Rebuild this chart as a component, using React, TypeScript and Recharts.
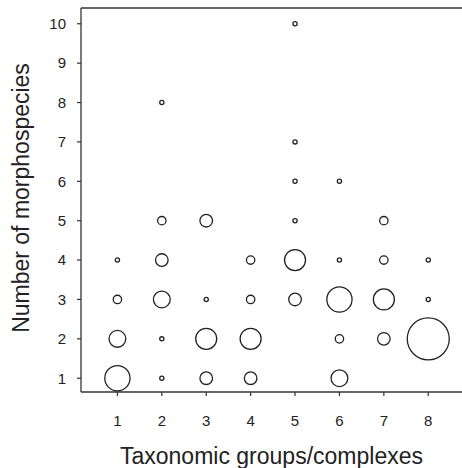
import React from 'react';
import { ScatterChart, Scatter, XAxis, YAxis, ReferenceLine, Label } from 'recharts';

// one entry per bubble: taxonomic group, number of morphospecies, frequency
const pointGroup = [1, 1, 1, 1, 2, 2, 2, 2, 2, 2, 3, 3, 3, 3, 4, 4, 4, 4, 5, 5, 5, 5, 5, 5, 6, 6, 6, 6, 6, 7, 7, 7, 7, 8, 8, 8];
const pointSpecies = [1, 2, 3, 4, 1, 2, 3, 4, 5, 8, 1, 2, 3, 5, 1, 2, 3, 4, 3, 4, 5, 6, 7, 10, 1, 2, 3, 4, 6, 2, 3, 4, 5, 2, 3, 4];
const pointCount = [6, 4, 2, 1, 1, 1, 4, 3, 2, 1, 3, 5, 1, 3, 3, 5, 2, 2, 3, 5, 1, 1, 1, 1, 4, 2, 6, 1, 1, 3, 5, 2, 2, 10, 1, 1];

const xTicks = [1, 2, 3, 4, 5, 6, 7, 8];
const yTicks = [1, 2, 3, 4, 5, 6, 7, 8, 9, 10];

const data = pointGroup.map((g, i) => ({ group: g, species: pointSpecies[i], count: pointCount[i] }));

const INK = '#222';
const FONT = '"Liberation Sans", Arial, sans-serif';

const Bubble = (props: any) => {
  const { cx, cy, payload } = props;
  if (cx == null || cy == null) return null;
  return <circle cx={cx} cy={cy} r={2.1 * payload.count} fill="none" stroke={INK} strokeWidth={1.3} />;
};

const YTitle = () => (
  <text
    x={21}
    y={198}
    transform="rotate(-90 21 198)"
    textAnchor="middle"
    dominantBaseline="central"
    fontSize={23}
    fontFamily={FONT}
    fill={INK}
  >
    Number of morphospecies
  </text>
);

export default function App() {
  return (
    <div style={{ position: 'absolute', left: 0, top: 0, fontFamily: FONT }}>
      <ScatterChart width={462} height={468} margin={{ top: 8, right: 0, bottom: 0, left: 0 }}>
        <XAxis
          type="number"
          dataKey="group"
          domain={[0.18, 8.76]}
          ticks={xTicks}
          allowDataOverflow
          height={76}
          tickSize={4}
          tickMargin={19}
          tick={{ fontSize: 15, fill: INK, fontFamily: FONT }}
          axisLine={{ stroke: '#333', strokeWidth: 1.3 }}
          tickLine={{ stroke: '#333', strokeWidth: 1.2 }}
        >
          <Label
            value="Taxonomic groups/complexes"
            position="insideBottom"
            offset={4}
            style={{ fontSize: 23, fill: INK, fontFamily: FONT }}
          />
        </XAxis>
        <YAxis
          type="number"
          dataKey="species"
          domain={[0.65, 10.4]}
          ticks={yTicks}
          allowDataOverflow
          width={81}
          tickSize={4}
          tickMargin={11}
          tick={{ fontSize: 15, fill: INK, fontFamily: FONT }}
          axisLine={{ stroke: '#333', strokeWidth: 1.3 }}
          tickLine={{ stroke: '#333', strokeWidth: 1.2 }}
          label={{ content: YTitle }}
        />
        <ReferenceLine y={10.4} stroke="#333" strokeWidth={1.3} ifOverflow="visible" />
        <Scatter data={data} shape={Bubble} isAnimationActive={false} />
      </ScatterChart>
    </div>
  );
}
